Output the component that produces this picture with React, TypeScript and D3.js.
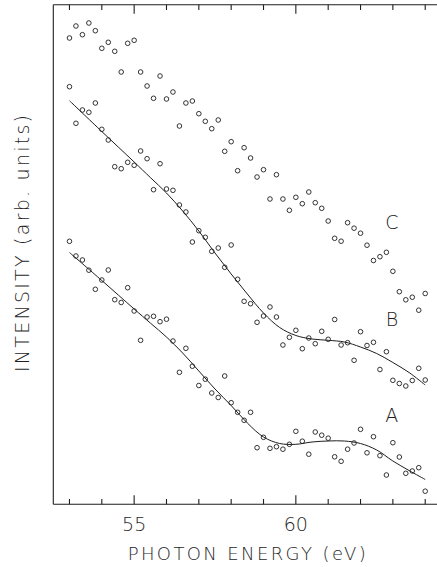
import React from "react";
import * as d3 from "d3";

// Photon energies (eV) of the measured points, shared by all three spectra
const energies = [
  53.0, 53.2, 53.4, 53.6, 53.8, 54.0, 54.2, 54.4, 54.6, 54.8,
  55.0, 55.2, 55.4, 55.6, 55.8, 56.0, 56.2, 56.4, 56.6, 56.8,
  57.0, 57.2, 57.4, 57.6, 57.8, 58.0, 58.2, 58.4, 58.6, 58.8,
  59.0, 59.2, 59.4, 59.6, 59.8, 60.0, 60.2, 60.4, 60.6, 60.8,
  61.0, 61.2, 61.4, 61.6, 61.8, 62.0, 62.2, 62.4, 62.6, 62.8,
  63.0, 63.2, 63.4, 63.6, 63.8, 64.0,
];

// Intensities (arb. units, offset spectra)
const seriesC = [
  46.63, 47.83, 46.96, 48.13, 47.36, 45.6, 46.2, 45.3, 43.23, 46.1,
  46.4, 43.23, 41.83, 40.6, 42.83, 40.53, 41.23, 37.83, 40.13, 40.33,
  39.06, 38.3, 37.56, 38.43, 35.3, 36.26, 33.36, 35.66, 34.63, 32.73,
  33.46, 30.53, 32.96, 30.53, 29.4, 30.7, 30.06, 31.23, 30.16, 29.6,
  28.33, 26.6, 26.31, 28.16, 27.61, 27.11, 25.91, 24.38, 24.76, 25.2,
  23.3, 21.26, 20.45, 20.71, 19.41, 21.08,
];

const seriesB = [
  41.76, 38.1, 39.43, 39.2, 40.13, 37.5, 36.43, 33.76, 33.56, 34.2,
  33.9, 35.33, 34.56, 31.46, 34.06, 31.53, 31.4, 29.93, 29.23, 26.23,
  27.36, 26.7, 25.3, 25.63, 23.7, 25.93, 22.5, 20.3, 20.06, 18.2,
  18.83, 19.73, 18.73, 15.93, 16.7, 17.4, 15.56, 16.63, 16.06, 17.3,
  16.5, 18.48, 15.93, 16.16, 14.4, 17.26, 15.88, 16.2, 13.48, 15.26,
  12.4, 12.08, 11.83, 12.38, 13.6, 12.43,
];

const seriesA = [
  26.3, 24.83, 24.43, 23.41, 21.5, 22.43, 23.43, 20.46, 20.18, 21.66,
  19.33, 16.4, 18.73, 18.8, 18.26, 18.51, 16.33, 13.2, 15.6, 13.81,
  11.88, 12.51, 11.13, 10.68, 12.83, 10.16, 9.2, 8.4, 9.2, 5.66,
  6.7, 5.6, 5.76, 5.51, 6.0, 7.3, 6.31, 5.01, 7.23, 6.91,
  6.61, 4.75, 4.3, 5.51, 6.13, 7.5, 5.15, 6.76, 4.86, 2.93,
  6.16, 4.73, 3.1, 3.33, 3.66, 1.31,
];

// Smooth fitted curves through spectra A and B
const fitEnergies = [
  53.0, 54.0, 55.0, 55.5, 56.0, 56.5, 57.0, 57.5, 58.0, 58.5,
  59.0, 59.5, 60.0, 60.5, 61.0, 61.5, 62.0, 62.5, 63.0, 63.5, 64.0,
];
const fitB = [
  40.36, 37.28, 34.23, 32.68, 31.13, 29.33, 27.33, 25.13, 23.03, 21.03,
  19.13, 17.68, 16.88, 16.53, 16.4, 16.23, 15.73, 15.08, 14.18, 13.18, 11.93,
];
const fitA = [
  25.18, 22.38, 19.53, 18.13, 16.73, 15.13, 13.33, 11.53, 9.88, 8.13,
  6.73, 6.08, 6.0, 6.23, 6.33, 6.33, 6.08, 5.43, 4.33, 3.38, 2.48,
];

const tickValues = [53, 54, 55, 56, 57, 58, 59, 60, 61, 62, 63, 64];
const labeledTicks = [55, 60];
const seriesLabels = [
  { name: "C", energy: 63.0, value: 27.5 },
  { name: "B", energy: 63.0, value: 17.8 },
  { name: "A", energy: 63.0, value: 8.2 },
];

const W = 437;
const H = 567;
const FONT = "'DejaVu Sans', 'Liberation Sans', sans-serif";
const INK = "#1e1e1e";

export default function App() {
  const left = 53.3;
  const top = 4.7;
  const bottom = 504.3;
  const x = d3.scaleLinear().domain([52.5, 64.5]).range([left, left + 12 * 32.34]);
  const y = d3.scaleLinear().domain([0, 50]).range([bottom, bottom - 500]);

  const fitLine = d3
    .line<number>()
    .x((_, i) => x(fitEnergies[i]))
    .y((d) => y(d))
    .curve(d3.curveCatmullRom.alpha(0.5));

  const spectra = [seriesA, seriesB, seriesC];

  return (
    <svg
      width={W}
      height={H}
      viewBox={`0 0 ${W} ${H}`}
      style={{ position: "absolute", left: 0, top: 0, background: "#fff" }}
    >
      <rect width={W} height={H} fill="#fff" />
      {/* frame */}
      <g stroke={INK} strokeWidth={1.1} fill="none">
        <line x1={left} y1={top} x2={left} y2={bottom} />
        <line x1={left} y1={top} x2={W + 5} y2={top} />
        <line x1={left} y1={bottom} x2={W + 5} y2={bottom} />
        {tickValues.map((t) => {
          const len = labeledTicks.includes(t) ? 9 : 5.3;
          return (
            <g key={t}>
              <line x1={x(t)} x2={x(t)} y1={bottom} y2={bottom - len} />
              <line x1={x(t)} x2={x(t)} y1={top} y2={top + len} />
            </g>
          );
        })}
      </g>
      {/* tick labels */}
      {labeledTicks.map((t) => (
        <text
          key={t}
          x={x(t)}
          y={531}
          textAnchor="middle"
          fontFamily={FONT}
          fontWeight={200}
          fontSize={19}
          fill={INK}
        >
          {t}
        </text>
      ))}
      {/* axis titles */}
      <text
        x={246.7}
        y={560}
        textAnchor="middle"
        fontFamily={FONT}
        fontWeight={200}
        fontSize={18}
        fill={INK}
        textLength={238}
        lengthAdjust="spacing"
      >
        PHOTON ENERGY (eV)
      </text>
      <text
        transform="translate(28.5,243.5) rotate(-90)"
        textAnchor="middle"
        fontFamily={FONT}
        fontWeight={200}
        fontSize={19}
        fill={INK}
        textLength={257}
        lengthAdjust="spacing"
      >
        INTENSITY (arb. units)
      </text>
      {/* fitted curves */}
      <path d={fitLine(fitA) || ""} fill="none" stroke={INK} strokeWidth={1} />
      <path d={fitLine(fitB) || ""} fill="none" stroke={INK} strokeWidth={1} />
      {/* data points */}
      {spectra.map((s, si) => (
        <g key={si} fill="none" stroke={INK} strokeWidth={0.9}>
          {s.map((v, i) => (
            <circle key={i} cx={x(energies[i])} cy={y(v)} r={2.3} />
          ))}
        </g>
      ))}
      {/* spectrum labels */}
      {seriesLabels.map((l) => (
        <text
          key={l.name}
          x={x(l.energy) - 1}
          y={y(l.value)}
          textAnchor="middle"
          fontFamily={FONT}
          fontWeight={200}
          fontSize={19}
          fill={INK}
        >
          {l.name}
        </text>
      ))}
    </svg>
  );
}
